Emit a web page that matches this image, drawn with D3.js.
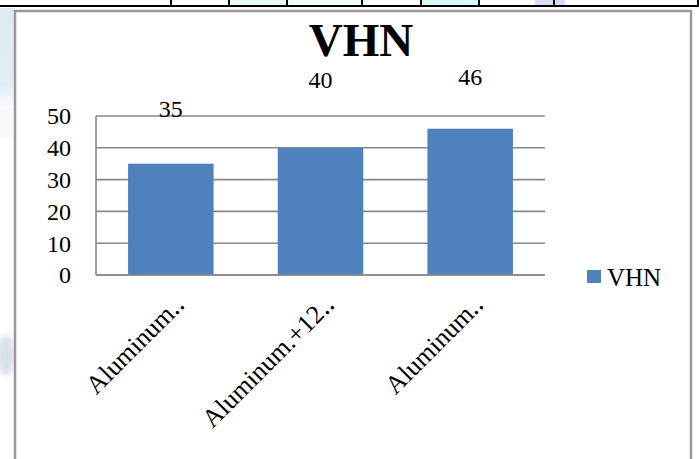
<!DOCTYPE html>
<html>
<head>
<meta charset="utf-8">
<script src="https://cdn.jsdelivr.net/npm/d3@7"></script>
<style>
  html, body { margin: 0; padding: 0; background: #fff; }
  svg { display: block; }
  svg text { font-family: "Times New Roman", "Liberation Serif", Tinos, serif !important; fill: #000; }
</style>
</head>
<body>
<svg id="chart" width="699" height="459"></svg>
<script>
// Vickers hardness per sample
const categories = ["Aluminum‥", "Aluminum.+12‥", "Aluminum‥"];
const vhnValues = [35, 40, 46];
const yTicks = [0, 10, 20, 30, 40, 50];
const seriesName = "VHN";
const chartTitle = "VHN";

// distance of each value label above its bar top
const labelLift = [47, 60, 44];

const svg = d3.select("#chart");
const SERIF = '"Times New Roman", "Liberation Serif", serif';

// faint page background behind the chart frame
const bg = svg.append("g");
const defs = svg.append("defs");
const leftFade = defs.append("linearGradient")
  .attr("id", "leftFade").attr("x1", 0).attr("y1", 0).attr("x2", 0).attr("y2", 1);
leftFade.append("stop").attr("offset", "0").attr("stop-color", "#dfe9f5");
leftFade.append("stop").attr("offset", "0.75").attr("stop-color", "#e3ecf6");
leftFade.append("stop").attr("offset", "1").attr("stop-color", "#fbfcfe");
defs.append("filter").attr("id", "soft").append("feGaussianBlur").attr("stdDeviation", 3);
bg.append("rect").attr("x", 0).attr("y", 8).attr("width", 15).attr("height", 100).attr("fill", "url(#leftFade)");
bg.append("rect").attr("x", 0).attr("y", 108).attr("width", 15).attr("height", 30).attr("fill", "#f6f9fc");
bg.append("ellipse").attr("cx", 6).attr("cy", 355).attr("rx", 9).attr("ry", 20)
  .attr("fill", "#d8deeb").attr("filter", "url(#soft)");
bg.append("rect").attr("x", 232).attr("y", 0).attr("width", 55).attr("height", 6).attr("fill", "#eafafa");
bg.append("rect").attr("x", 290).attr("y", 0).attr("width", 70).attr("height", 6).attr("fill", "#eefbfb");
bg.append("rect").attr("x", 423).attr("y", 0).attr("width", 55).attr("height", 6).attr("fill", "#d6fafa");
bg.append("rect").attr("x", 535).attr("y", 0).attr("width", 30).attr("height", 6).attr("fill", "#d8dcf0");

// table rule along the top edge
svg.append("line").attr("x1", 0).attr("x2", 699).attr("y1", 6).attr("y2", 6)
  .attr("stroke", "#000").attr("stroke-width", 2);
[171, 229, 287, 362, 421, 479, 554, 698].forEach(x => {
  svg.append("line").attr("x1", x).attr("x2", x).attr("y1", 0).attr("y2", 6)
    .attr("stroke", "#000").attr("stroke-width", 2);
});

// chart frame
svg.append("rect").attr("x", 15).attr("y", 11).attr("width", 676).attr("height", 460)
  .attr("fill", "#fff").attr("stroke", "#9a9a9a").attr("stroke-width", 2.5);

// scales
const plot = { left: 96, right: 545, top: 116, bottom: 275 };
const gap = 0.75 / 1.75;
const x = d3.scaleBand().domain(d3.range(categories.length))
  .range([plot.left, plot.right]).paddingInner(gap).paddingOuter(gap / 2);
const y = d3.scaleLinear().domain([0, 50]).range([plot.bottom, plot.top]);

// gridlines
svg.append("g").selectAll("line").data(yTicks).join("line")
  .attr("x1", plot.left).attr("x2", plot.right)
  .attr("y1", d => y(d)).attr("y2", d => y(d))
  .attr("stroke", "#888").attr("stroke-width", 1.6);

// bars
svg.append("g").selectAll("rect").data(vhnValues).join("rect")
  .attr("x", (d, i) => x(i)).attr("width", x.bandwidth())
  .attr("y", d => y(d)).attr("height", d => y(0) - y(d))
  .attr("fill", "#4f81bd");

// axis lines
svg.append("line").attr("x1", plot.left).attr("x2", plot.left)
  .attr("y1", plot.top).attr("y2", plot.bottom)
  .attr("stroke", "#888").attr("stroke-width", 1.6);
svg.append("line").attr("x1", plot.left).attr("x2", plot.right)
  .attr("y1", plot.bottom).attr("y2", plot.bottom)
  .attr("stroke", "#888").attr("stroke-width", 1.6);

// y tick labels
const yAxis = d3.axisLeft(y).tickValues(yTicks).tickSize(0).tickPadding(0);
const gy = svg.append("g").attr("transform", "translate(71,0)").call(yAxis)
  .attr("font-family", SERIF).attr("font-size", 24);
gy.select(".domain").remove();
gy.selectAll("text").style("font-family", SERIF).style("font-size", "24px")
  .attr("fill", "#000").attr("dy", "0.33em");

// category labels, rotated
svg.append("g").selectAll("text").data(categories).join("text")
  .attr("transform", (d, i) => `translate(${x(i) + x.bandwidth() / 2 + 15},${plot.bottom + 31}) rotate(-45)`)
  .attr("text-anchor", "end")
  .style("font-family", SERIF).style("font-size", "26px")
  .text(d => d);

// value labels
svg.append("g").selectAll("text").data(vhnValues).join("text")
  .attr("x", (d, i) => x(i) + x.bandwidth() / 2)
  .attr("y", (d, i) => y(d) - labelLift[i])
  .attr("text-anchor", "middle")
  .style("font-family", SERIF).style("font-size", "24px")
  .text(d => d);

// title
svg.append("text").attr("x", 361).attr("y", 56)
  .attr("text-anchor", "middle")
  .style("font-family", SERIF).style("font-size", "47px").style("font-weight", "bold")
  .text(chartTitle);

// legend
const lg = svg.append("g").attr("transform", "translate(587,270)");
lg.append("rect").attr("width", 14).attr("height", 13).attr("fill", "#4f81bd");
lg.append("text").attr("x", 20).attr("y", 16)
  .style("font-family", SERIF).style("font-size", "25px")
  .text(seriesName);
</script>
</body>
</html>
